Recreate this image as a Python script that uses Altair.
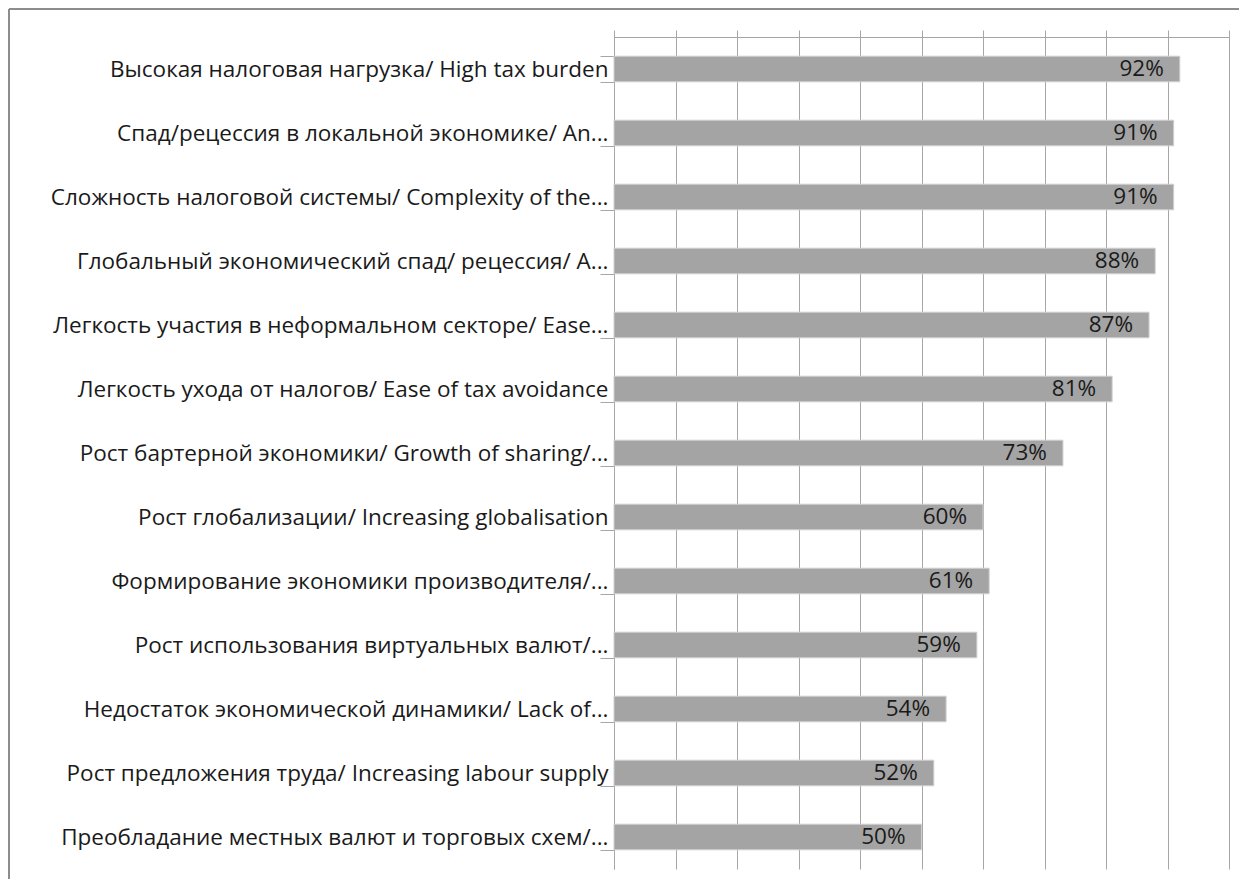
import altair as alt
import pandas as pd

categories = [
    "Высокая налоговая нагрузка/ High tax burden",
    "Спад/рецессия в локальной экономике/ An...",
    "Сложность налоговой системы/ Complexity of the...",
    "Глобальный экономический спад/ рецессия/ A...",
    "Легкость участия в неформальном секторе/ Ease...",
    "Легкость ухода от налогов/ Ease of tax avoidance",
    "Рост бартерной экономики/ Growth of sharing/...",
    "Рост глобализации/ Increasing globalisation",
    "Формирование экономики производителя/...",
    "Рост использования виртуальных валют/...",
    "Недостаток экономической динамики/ Lack of...",
    "Рост предложения труда/ Increasing labour supply",
    "Преобладание местных валют и торговых схем/...",
]
values = [92, 91, 91, 88, 87, 81, 73, 60, 61, 59, 54, 52, 50]
value_labels = [f"{v}%" for v in values]

df = pd.DataFrame({"cat": categories, "val": values, "lab": value_labels})

FONT = "Open Sans"
GRID = "#a6a6a6"
FS = 22.5

y_enc = alt.Y(
    "cat:N",
    sort=None,
    scale=alt.Scale(paddingInner=0.6, paddingOuter=0.3),
    axis=alt.Axis(
        title=None,
        orient="left",
        tickBand="extent",
        tickSize=14,
        tickColor=GRID,
        domainColor=GRID,
        labelPadding=-8,
        labelFontSize=FS,
        labelFont=FONT,
        labelColor="#1a1a1a",
        labelLimit=0,
        grid=False,
    ),
)
x_enc = alt.X(
    "val:Q",
    scale=alt.Scale(domain=[0, 100], nice=False),
    axis=alt.Axis(
        title=None,
        orient="top",
        values=[0, 10, 20, 30, 40, 50, 60, 70, 80, 90, 100],
        labels=False,
        tickSize=7,
        tickColor=GRID,
        domainColor=GRID,
        grid=True,
        gridColor=GRID,
        gridOpacity=1,
    ),
)

bars = alt.Chart(df).mark_bar(color="#a4a4a4", stroke="#cfcfcf", strokeWidth=1).encode(
    x=x_enc, y=y_enc
)
texts = alt.Chart(df).mark_text(
    align="right", baseline="middle", dx=-16, fontSize=FS, font=FONT, color="#1a1a1a"
).encode(x="val:Q", y=alt.Y("cat:N", sort=None), text="lab:N")

frame_left = alt.Chart(df).mark_rule(color="#8c8c8c", strokeWidth=1).encode(
    x=alt.value(-605), y=alt.value(-28), y2=alt.value(900)
)
frame_top = alt.Chart(df).mark_rule(color="#8c8c8c", strokeWidth=1).encode(
    y=alt.value(-28), x=alt.value(-605), x2=alt.value(700)
)

chart = (
    alt.layer(bars, texts, frame_left, frame_top)
    .properties(
        width=615,
        height=832,
        autosize=alt.AutoSizeParams(type="none"),
        padding={"left": 606, "top": 29, "right": 10, "bottom": 10},
    )
    .configure_view(stroke=None)
)

chart.save("out.html", embed_options={"renderer": "svg", "actions": False})
